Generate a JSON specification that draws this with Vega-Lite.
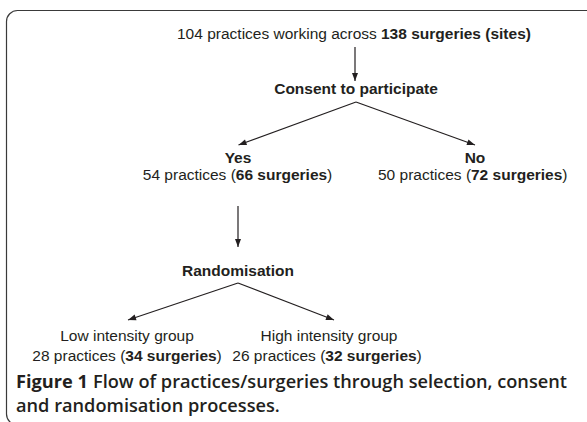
{
  "$schema": "https://vega.github.io/schema/vega-lite/v6.json",
  "width": 587,
  "height": 422,
  "autosize": "none",
  "padding": 0,
  "config": {"view": {"stroke": null}, "axis": {"disable": true}},
  "datasets": {
    "box": [{"x": 6.5, "y": 10.5, "x2": 700, "y2": 425}],
    "arrows": [
      {"id": "a1", "x": 355, "y": 47, "x2": 355, "y2": 81},
      {"id": "a2", "x": 356, "y": 102, "x2": 238.5, "y2": 145},
      {"id": "a3", "x": 356, "y": 102, "x2": 475, "y2": 145},
      {"id": "a4", "x": 238, "y": 206, "x2": 238, "y2": 247},
      {"id": "a5", "x": 238, "y": 283, "x2": 128, "y2": 320},
      {"id": "a6", "x": 238, "y": 283, "x2": 334, "y2": 320}
    ],
    "plain": [
      {"t": "104 practices working across", "x": 177, "y": 39},
      {"t": "54 practices (", "x": 142.8, "y": 180},
      {"t": ")", "x": 327.1, "y": 180},
      {"t": "50 practices (", "x": 378, "y": 180},
      {"t": ")", "x": 562.3, "y": 180},
      {"t": "28 practices (", "x": 32.3, "y": 361},
      {"t": ")", "x": 216.6, "y": 361},
      {"t": "26 practices (", "x": 232.3, "y": 361},
      {"t": ")", "x": 416.6, "y": 361}
    ],
    "bold": [
      {"t": "138 surgeries (sites)", "x": 381, "y": 39},
      {"t": "66 surgeries", "x": 235.8, "y": 180},
      {"t": "72 surgeries", "x": 471, "y": 180},
      {"t": "34 surgeries", "x": 125.3, "y": 361},
      {"t": "32 surgeries", "x": 325.3, "y": 361}
    ],
    "plainCenter": [
      {"t": "Low intensity group", "x": 127, "y": 341},
      {"t": "High intensity group", "x": 329, "y": 341}
    ],
    "boldCenter": [
      {"t": "Consent to participate", "x": 356, "y": 94},
      {"t": "Yes", "x": 238, "y": 163},
      {"t": "No", "x": 475, "y": 163},
      {"t": "Randomisation", "x": 238, "y": 276}
    ],
    "capBold": [{"t": "Figure 1", "x": 16, "y": 388}],
    "cap": [
      {"t": "Flow of practices/surgeries through selection, consent", "x": 93, "y": 388},
      {"t": "and randomisation processes.", "x": 16, "y": 412}
    ]
  },
  "layer": [
    {
      "data": {"name": "box"},
      "mark": {"type": "rect", "cornerRadius": 11, "fillOpacity": 0, "stroke": "#3a3a3a", "strokeWidth": 1.2},
      "encoding": {
        "x": {"field": "x", "type": "quantitative", "scale": {"domain": [0, 587], "nice": false, "zero": false}},
        "x2": {"field": "x2"},
        "y": {"field": "y", "type": "quantitative", "scale": {"domain": [0, 422], "nice": false, "zero": false, "reverse": true}},
        "y2": {"field": "y2"}
      }
    },
    {
      "data": {"name": "arrows"},
      "mark": {"type": "rule", "stroke": "#231f20", "strokeWidth": 1.2},
      "encoding": {
        "x": {"field": "x", "type": "quantitative"},
        "x2": {"field": "x2"},
        "y": {"field": "y", "type": "quantitative"},
        "y2": {"field": "y2"}
      }
    },
    {
      "data": {"name": "arrows"},
      "transform": [{"filter": "datum.id == 'a1' || datum.id == 'a4'"}],
      "mark": {"type": "point", "shape": "M0,0L0.75,2L-0.75,2Z", "filled": true, "size": 64, "opacity": 1, "color": "#231f20", "angle": 180},
      "encoding": {"x": {"field": "x2", "type": "quantitative"}, "y": {"field": "y2", "type": "quantitative"}}
    },
    {
      "data": {"name": "arrows"},
      "transform": [{"filter": "datum.id == 'a2'"}],
      "mark": {"type": "point", "shape": "M0,0L0.75,2L-0.75,2Z", "filled": true, "size": 64, "opacity": 1, "color": "#231f20", "angle": 249.9},
      "encoding": {"x": {"field": "x2", "type": "quantitative"}, "y": {"field": "y2", "type": "quantitative"}}
    },
    {
      "data": {"name": "arrows"},
      "transform": [{"filter": "datum.id == 'a3'"}],
      "mark": {"type": "point", "shape": "M0,0L0.75,2L-0.75,2Z", "filled": true, "size": 64, "opacity": 1, "color": "#231f20", "angle": 109.9},
      "encoding": {"x": {"field": "x2", "type": "quantitative"}, "y": {"field": "y2", "type": "quantitative"}}
    },
    {
      "data": {"name": "arrows"},
      "transform": [{"filter": "datum.id == 'a5'"}],
      "mark": {"type": "point", "shape": "M0,0L0.75,2L-0.75,2Z", "filled": true, "size": 64, "opacity": 1, "color": "#231f20", "angle": 251.4},
      "encoding": {"x": {"field": "x2", "type": "quantitative"}, "y": {"field": "y2", "type": "quantitative"}}
    },
    {
      "data": {"name": "arrows"},
      "transform": [{"filter": "datum.id == 'a6'"}],
      "mark": {"type": "point", "shape": "M0,0L0.75,2L-0.75,2Z", "filled": true, "size": 64, "opacity": 1, "color": "#231f20", "angle": 111.3},
      "encoding": {"x": {"field": "x2", "type": "quantitative"}, "y": {"field": "y2", "type": "quantitative"}}
    },
    {
      "data": {"name": "plain"},
      "mark": {"type": "text", "font": "Liberation Sans", "fontSize": 15.5, "align": "left", "baseline": "alphabetic", "color": "#231f20"},
      "encoding": {"x": {"field": "x", "type": "quantitative"}, "y": {"field": "y", "type": "quantitative"}, "text": {"field": "t"}}
    },
    {
      "data": {"name": "bold"},
      "mark": {"type": "text", "font": "Liberation Sans", "fontSize": 15.5, "fontWeight": "bold", "align": "left", "baseline": "alphabetic", "color": "#231f20"},
      "encoding": {"x": {"field": "x", "type": "quantitative"}, "y": {"field": "y", "type": "quantitative"}, "text": {"field": "t"}}
    },
    {
      "data": {"name": "plainCenter"},
      "mark": {"type": "text", "font": "Liberation Sans", "fontSize": 15.5, "align": "center", "baseline": "alphabetic", "color": "#231f20"},
      "encoding": {"x": {"field": "x", "type": "quantitative"}, "y": {"field": "y", "type": "quantitative"}, "text": {"field": "t"}}
    },
    {
      "data": {"name": "boldCenter"},
      "mark": {"type": "text", "font": "Liberation Sans", "fontSize": 15.5, "fontWeight": "bold", "align": "center", "baseline": "alphabetic", "color": "#231f20"},
      "encoding": {"x": {"field": "x", "type": "quantitative"}, "y": {"field": "y", "type": "quantitative"}, "text": {"field": "t"}}
    },
    {
      "data": {"name": "capBold"},
      "mark": {"type": "text", "font": "Open Sans", "fontSize": 18.2, "fontWeight": "bold", "align": "left", "baseline": "alphabetic", "color": "#231f20"},
      "encoding": {"x": {"field": "x", "type": "quantitative"}, "y": {"field": "y", "type": "quantitative"}, "text": {"field": "t"}}
    },
    {
      "data": {"name": "cap"},
      "mark": {"type": "text", "font": "Open Sans", "fontSize": 18.2, "fontWeight": 600, "align": "left", "baseline": "alphabetic", "color": "#231f20"},
      "encoding": {"x": {"field": "x", "type": "quantitative"}, "y": {"field": "y", "type": "quantitative"}, "text": {"field": "t"}}
    }
  ]
}
